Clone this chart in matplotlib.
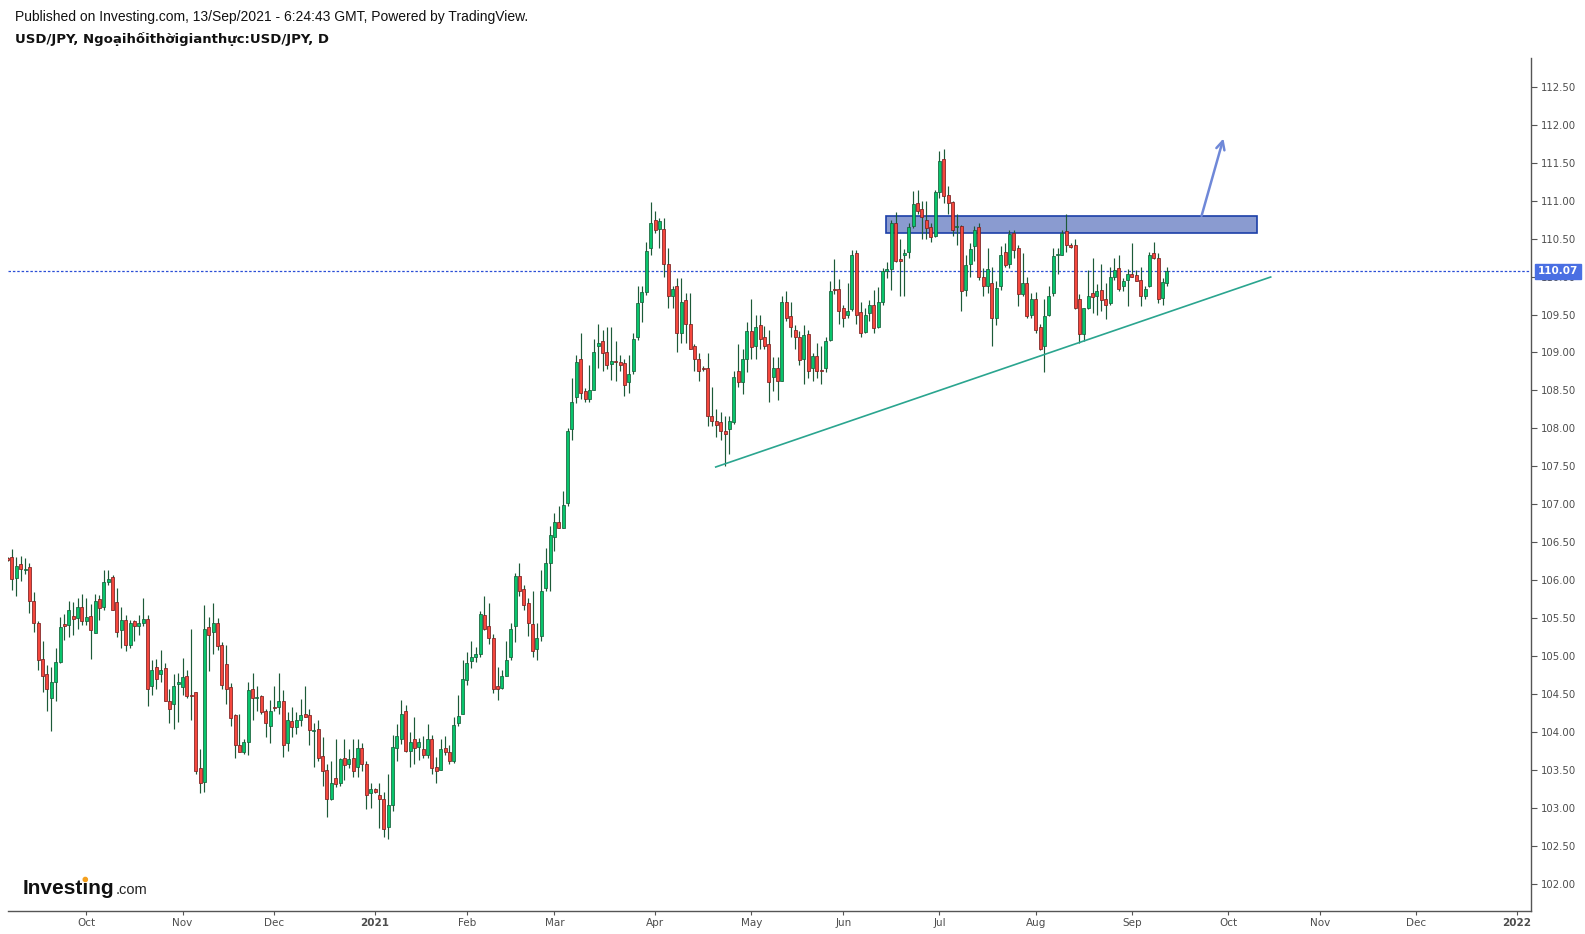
import numpy as np
import pandas as pd
import matplotlib
matplotlib.use('Agg')
import matplotlib.pyplot as plt
from matplotlib.patches import Rectangle, Ellipse

# ---------------- data ----------------
dates = pd.bdate_range('2020-09-07', '2021-09-13')

opens = [
    # Sep 2020
    106.29, 106.30, 106.03, 106.21, 106.13, 106.17, 105.73, 105.44, 104.96, 104.76, 104.45, 104.65, 104.92, 105.42, 105.41, 105.52, 105.50, 105.64,
    # Oct
    105.46, 105.53, 105.30, 105.75, 105.64, 105.97, 106.04, 105.71, 105.34, 105.48, 105.14, 105.46, 105.40, 105.44, 105.49, 104.60, 104.85, 104.76, 104.84, 104.41, 104.36, 104.63,
    # Nov
    104.59, 104.73, 104.48, 104.52, 103.52, 103.34, 105.38, 105.31, 105.43, 105.14, 104.89, 104.59, 104.22, 103.82, 103.74, 103.86, 104.56, 104.44, 104.47, 104.27, 104.07,
    # Dec
    104.32, 104.33, 104.40, 103.85, 104.14, 104.06, 104.16, 104.24, 104.22, 104.01, 104.04, 103.68, 103.50, 103.12, 103.39, 103.33, 103.65, 103.58, 103.65, 103.54, 103.79, 103.58, 103.19,
    # Jan 2021
    103.25, 103.17, 103.12, 102.75, 103.04, 103.79, 103.90, 104.28, 103.75, 103.90, 103.80, 103.77, 103.69, 103.91, 103.54, 103.50, 103.79, 103.74, 103.62, 104.11, 104.24,
    # Feb
    104.68, 104.93, 104.98, 105.02, 105.54, 105.39, 105.23, 104.60, 104.58, 104.74, 104.99, 105.39, 106.05, 105.88, 105.70, 105.42, 105.09, 105.26, 105.89, 106.23,
    # Mar
    106.57, 106.77, 106.69, 107.01, 107.99, 108.41, 108.91, 108.49, 108.38, 108.51, 109.08, 109.15, 109.01, 108.85, 108.89, 108.87, 108.86, 108.61, 108.75, 109.20, 109.66, 109.80, 110.37,
    # Apr
    110.75, 110.63, 110.63, 110.17, 109.75, 109.87, 109.25, 109.69, 109.38, 109.08, 108.92, 108.79, 108.79, 108.16, 108.10, 108.08, 107.97, 107.99, 108.08, 108.75, 108.61, 108.92,
    # May
    109.28, 109.08, 109.36, 109.21, 109.11, 108.67, 108.80, 108.62, 109.67, 109.48, 109.29, 109.21, 108.91, 109.24, 108.79, 108.95, 108.76, 108.79, 109.16, 109.83, 109.84,
    # Jun
    109.58, 109.49, 109.57, 110.31, 109.53, 109.27, 109.52, 109.63, 109.33, 109.66, 110.07, 110.10, 110.71, 110.23, 110.28, 110.33, 110.66, 110.97, 110.89, 110.75, 110.65, 110.53,
    # Jul
    111.12, 111.55, 111.07, 110.98, 110.65, 110.66, 109.82, 110.17, 110.40, 110.65, 109.99, 109.88, 109.92, 109.45, 109.87, 110.33, 110.16, 110.57, 110.37, 109.77, 109.92, 109.49,
    # Aug
    109.70, 109.33, 109.08, 109.49, 109.78, 110.28, 110.29, 110.60, 110.42, 110.41, 109.71, 109.24, 109.58, 109.78, 109.75, 109.82, 109.70, 109.65, 110.00, 110.11, 109.87, 109.95,
    # Sep
    110.03, 110.02, 109.96, 109.75, 109.87, 110.31, 110.24, 109.72, 109.92,
]

highs = [
    106.30, 106.41, 106.30, 106.32, 106.29, 106.22, 105.84, 105.46, 105.20, 104.88, 104.86, 105.11, 105.51, 105.55, 105.73, 105.71, 105.76, 105.81,
    105.76, 105.69, 105.81, 105.80, 106.13, 106.13, 106.06, 105.89, 105.64, 105.54, 105.48, 105.48, 105.54, 105.76, 105.54, 104.95, 104.96, 105.08, 104.91, 104.57, 104.76, 104.77,
    104.97, 104.82, 105.35, 104.53, 103.77, 105.67, 105.51, 105.70, 105.50, 105.18, 105.14, 104.64, 104.23, 104.23, 103.91, 104.65, 104.77, 104.61, 104.49, 104.30, 104.42,
    104.60, 104.77, 104.55, 104.26, 104.33, 104.26, 104.43, 104.60, 104.30, 104.12, 104.16, 103.93, 103.57, 103.61, 103.90, 103.66, 103.90, 103.77, 103.90, 103.90, 103.85, 103.61, 103.33,
    103.26, 103.32, 103.20, 103.45, 103.96, 104.10, 104.42, 104.35, 104.00, 104.20, 103.92, 103.94, 104.10, 103.96, 103.67, 103.90, 103.95, 103.83, 104.20, 104.48, 104.95,
    105.05, 105.20, 105.12, 105.59, 105.79, 105.70, 105.29, 104.85, 104.81, 105.20, 105.43, 106.09, 106.23, 105.94, 105.76, 105.85, 105.44, 106.13, 106.42, 106.71,
    106.89, 106.97, 107.17, 108.00, 108.66, 108.96, 109.25, 108.53, 108.83, 109.18, 109.38, 109.30, 109.34, 109.34, 109.15, 108.97, 108.92, 108.97, 109.25, 109.87, 109.87, 110.45, 110.98,
    110.87, 110.77, 110.77, 110.38, 109.88, 109.98, 109.98, 109.78, 109.78, 109.11, 108.99, 108.82, 108.99, 108.55, 108.25, 108.21, 108.16, 108.16, 108.75, 109.11, 109.05, 109.40,
    109.71, 109.50, 109.49, 109.35, 109.30, 108.94, 108.94, 109.75, 109.81, 109.67, 109.36, 109.28, 109.36, 109.29, 108.99, 109.12, 109.08, 109.20, 109.94, 110.23, 109.97,
    109.62, 109.91, 110.35, 110.35, 109.66, 109.59, 109.69, 109.82, 109.86, 110.11, 110.19, 110.74, 110.85, 110.50, 110.36, 110.70, 111.13, 111.14, 111.00, 110.99, 110.71, 111.14,
    111.66, 111.68, 111.20, 111.00, 110.83, 110.68, 110.28, 110.44, 110.66, 110.71, 110.11, 110.37, 110.12, 109.94, 110.40, 110.44, 110.61, 110.61, 110.41, 110.31, 109.99, 109.78,
    109.79, 109.38, 109.70, 109.88, 110.37, 110.37, 110.61, 110.82, 110.44, 110.49, 109.77, 109.59, 110.08, 110.24, 109.90, 110.16, 109.91, 110.13, 110.24, 110.28, 109.98, 110.10,
    110.44, 110.08, 110.12, 109.88, 110.33, 110.46, 110.31, 109.98, 110.12,
]

lows = [
    106.25, 105.87, 105.79, 105.99, 106.08, 105.56, 105.31, 104.81, 104.53, 104.28, 104.01, 104.41, 104.91, 105.21, 105.25, 105.28, 105.36, 105.41,
    105.41, 104.96, 105.30, 105.48, 105.60, 105.93, 105.60, 105.25, 105.11, 105.06, 105.11, 105.20, 105.27, 105.39, 104.34, 104.48, 104.56, 104.66, 104.40, 104.12, 104.04, 104.13,
    104.48, 104.44, 104.16, 103.45, 103.19, 103.21, 104.80, 105.02, 105.08, 104.57, 104.37, 104.08, 103.66, 103.73, 103.71, 103.70, 104.16, 104.27, 104.23, 103.93, 103.85,
    104.27, 104.24, 103.67, 103.75, 103.93, 103.97, 104.07, 104.19, 103.83, 103.53, 103.62, 103.28, 102.88, 103.10, 103.27, 103.29, 103.37, 103.52, 103.41, 103.41, 103.48, 102.98, 103.00,
    103.19, 102.73, 102.61, 102.59, 102.96, 103.62, 103.84, 103.74, 103.54, 103.58, 103.63, 103.65, 103.66, 103.45, 103.33, 103.49, 103.69, 103.57, 103.59, 104.07, 104.23,
    104.62, 104.84, 104.92, 104.99, 105.34, 105.16, 104.51, 104.42, 104.56, 104.73, 104.94, 105.19, 105.79, 105.61, 105.26, 104.99, 104.94, 105.20, 105.85, 105.86,
    106.38, 106.68, 106.68, 106.98, 107.84, 108.33, 108.39, 108.35, 108.35, 108.50, 108.79, 108.76, 108.78, 108.64, 108.63, 108.76, 108.42, 108.46, 108.72, 109.16, 109.40, 109.76, 110.29,
    110.57, 110.38, 109.99, 109.59, 109.59, 109.01, 109.13, 109.13, 109.04, 108.76, 108.63, 108.75, 108.03, 108.03, 107.89, 107.84, 107.50, 107.66, 108.06, 108.55, 108.45, 108.74,
    108.92, 108.92, 109.05, 109.04, 108.35, 108.49, 108.37, 108.62, 109.42, 109.21, 109.05, 108.84, 108.59, 108.66, 108.63, 108.66, 108.59, 108.74, 109.15, 109.77, 109.37,
    109.34, 109.45, 109.55, 109.38, 109.21, 109.25, 109.42, 109.25, 109.32, 109.62, 109.98, 109.82, 110.19, 109.74, 109.74, 110.24, 110.64, 110.82, 110.50, 110.50, 110.45, 110.52,
    111.04, 110.97, 110.82, 110.54, 110.42, 109.55, 109.75, 110.00, 110.21, 109.95, 109.74, 109.78, 109.09, 109.36, 109.82, 110.13, 110.11, 110.25, 109.61, 109.75, 109.45, 109.45,
    109.25, 109.03, 108.74, 109.48, 109.75, 110.04, 110.28, 110.33, 110.37, 109.57, 109.13, 109.15, 109.57, 109.52, 109.49, 109.55, 109.44, 109.63, 109.95, 109.81, 109.81, 109.61,
    109.99, 109.94, 109.61, 109.70, 109.86, 110.23, 109.65, 109.62, 109.88,
]

closes = [
    106.26, 106.02, 106.19, 106.14, 106.14, 105.73, 105.44, 104.94, 104.73, 104.56, 104.65, 104.92, 105.38, 105.40, 105.60, 105.49, 105.64, 105.46,
    105.51, 105.34, 105.73, 105.63, 105.97, 106.02, 105.60, 105.31, 105.48, 105.15, 105.44, 105.40, 105.43, 105.49, 104.56, 104.82, 104.69, 104.82, 104.40, 104.30, 104.61, 104.65,
    104.72, 104.47, 104.47, 103.48, 103.33, 105.36, 105.28, 105.43, 105.13, 104.62, 104.56, 104.18, 103.83, 103.73, 103.86, 104.55, 104.44, 104.46, 104.26, 104.11, 104.27,
    104.31, 104.40, 103.83, 104.15, 104.06, 104.15, 104.22, 104.20, 104.02, 104.03, 103.66, 103.48, 103.11, 103.32, 103.31, 103.64, 103.56, 103.64, 103.48, 103.78, 103.57, 103.17, 103.24,
    103.20, 103.11, 102.72, 103.04, 103.80, 103.94, 104.24, 103.75, 103.86, 103.79, 103.87, 103.69, 103.90, 103.52, 103.48, 103.77, 103.73, 103.61, 104.09, 104.21, 104.69,
    104.91, 104.98, 105.02, 105.55, 105.36, 105.23, 104.57, 104.57, 104.73, 104.94, 105.36, 106.05, 105.85, 105.67, 105.44, 105.06, 105.24, 105.86, 106.22, 106.59,
    106.76, 106.68, 106.99, 107.97, 108.35, 108.87, 108.47, 108.39, 108.50, 109.01, 109.13, 108.99, 108.84, 108.89, 108.88, 108.84, 108.57, 108.72, 109.18, 109.65, 109.79, 110.34, 110.71,
    110.61, 110.73, 110.17, 109.75, 109.84, 109.25, 109.66, 109.38, 109.05, 108.92, 108.75, 108.78, 108.16, 108.09, 108.05, 107.97, 107.92, 108.09, 108.68, 108.61, 108.92, 109.28,
    109.07, 109.34, 109.18, 109.09, 108.61, 108.79, 108.62, 109.66, 109.46, 109.34, 109.20, 108.90, 109.23, 108.76, 108.95, 108.75, 108.75, 109.15, 109.81, 109.82, 109.55,
    109.46, 109.55, 110.29, 109.50, 109.25, 109.50, 109.62, 109.32, 109.66, 110.07, 110.10, 110.70, 110.21, 110.20, 110.31, 110.65, 110.95, 110.87, 110.78, 110.64, 110.52, 111.11,
    111.52, 111.06, 110.97, 110.61, 110.66, 109.81, 110.15, 110.36, 110.62, 110.00, 109.87, 110.10, 109.45, 109.85, 110.28, 110.15, 110.56, 110.35, 109.77, 109.91, 109.48, 109.71,
    109.29, 109.05, 109.48, 109.75, 110.27, 110.29, 110.57, 110.41, 110.39, 109.58, 109.24, 109.58, 109.75, 109.73, 109.81, 109.69, 109.63, 110.00, 110.08, 109.83, 109.94, 110.03,
    110.00, 109.94, 109.74, 109.84, 110.28, 110.24, 109.71, 109.93, 110.07,
]

last_price = 110.07
y_ticks = np.arange(102.0, 112.51, 0.5)

# resistance zone / trend line / arrow (drawing tools)
zone_x = (200.86, 285.66)
zone_y = (110.58, 110.80)
trend_x = (161.86, 288.70)
trend_y = (107.49, 109.994)
arrow_from = (272.9, 110.80)
arrow_to = (277.9, 111.82)

# ---------------- plot ----------------
W, H = 1585, 934
fig = plt.figure(figsize=(W / 100, H / 100), dpi=100)
fig.patch.set_facecolor('white')
ax_l, ax_r, ax_t, ax_b = 8, 1531, 57.6, 910.7
ax = fig.add_axes([ax_l / W, (H - ax_b) / H, (ax_r - ax_l) / W, (ax_b - ax_t) / H])

o = np.array(opens); h = np.array(highs); l = np.array(lows); c = np.array(closes)
x = np.arange(len(dates))
up = c >= o

GREEN = '#08c46c'
GREEN_EDGE = '#17603a'
RED = '#f4473d'
RED_EDGE = '#7a1f1f'
WICK = '#1d5a38'

ax.vlines(x, l, h, color=WICK, lw=0.85, zorder=2)
bottom = np.minimum(o, c)
height = np.maximum(np.abs(c - o), 0.012)
ax.bar(x[up], height[up], bottom=bottom[up], width=0.68, color=GREEN,
       edgecolor=GREEN_EDGE, linewidth=0.55, zorder=3)
ax.bar(x[~up], height[~up], bottom=bottom[~up], width=0.68, color=RED,
       edgecolor=RED_EDGE, linewidth=0.55, zorder=3)

# last price dotted line
ax.axhline(last_price, color='#2b4fd6', lw=0.9, ls=(0, (2, 1.5)), zorder=1)

# resistance zone (drawn under the candles)
ax.add_patch(Rectangle((zone_x[0], zone_y[0]), zone_x[1] - zone_x[0], zone_y[1] - zone_y[0],
                       facecolor='#8a9bd0', edgecolor='#1c3fa8', lw=1.2, zorder=1.5))
# trend line
ax.plot(trend_x, trend_y, color='#2aa58f', lw=1.2, zorder=4)
# arrow
ax.annotate('', xy=arrow_to, xytext=arrow_from,
            arrowprops=dict(arrowstyle='->', color='#6f88d8', lw=1.8, mutation_scale=15,
                            shrinkA=0, shrinkB=0), zorder=5)

# axes limits
ax.set_xlim(0.10, 348.2)
ax.set_ylim(101.642, 112.886)

# month ticks from business-day calendar extended into the future
all_days = pd.bdate_range('2020-09-07', '2022-01-31')
tick_pos, tick_lab = [], []
for i in range(1, len(all_days)):
    if all_days[i].month != all_days[i - 1].month:
        tick_pos.append(i)
        d = all_days[i]
        tick_lab.append(str(d.year) if d.month == 1 else d.strftime('%b'))
ax.set_xticks(tick_pos)
ax.set_xticklabels(tick_lab)
for lab in ax.get_xticklabels():
    if lab.get_text().isdigit():
        lab.set_fontweight('bold')

ax.set_yticks(y_ticks)
ax.set_yticklabels([f'{v:.2f}' for v in y_ticks])
ax.yaxis.tick_right()

for s in ('top', 'left'):
    ax.spines[s].set_visible(False)
for s in ('right', 'bottom'):
    ax.spines[s].set_color('#555555')
    ax.spines[s].set_linewidth(1.0)

ax.tick_params(axis='y', direction='out', length=4, width=0.8, color='#555555',
               labelcolor='#4d4d4d', labelsize=7.3, pad=3)
ax.tick_params(axis='x', direction='out', length=3, width=0.8, color='#555555',
               labelcolor='#4d4d4d', labelsize=7.5, pad=2)
for lab in ax.get_xticklabels() + ax.get_yticklabels():
    lab.set_family('DejaVu Sans')

# last price label
ax.annotate(f'{last_price:.2f}', xy=(1.0, last_price), xycoords=('axes fraction', 'data'),
            xytext=(5, 0), textcoords='offset points', ha='left', va='center',
            fontsize=7.5, fontweight='bold', color='white', family='DejaVu Sans',
            bbox=dict(boxstyle='square,pad=0.25', fc='#4a6fe3', ec='#4a6fe3'),
            annotation_clip=False, zorder=10)

# header texts
fig.text(15.2 / W, 1 - 17.2 / H,
         'Published on Investing.com, 13/Sep/2021 - 6:24:43 GMT, Powered by TradingView.',
         fontsize=10.0, family='Liberation Sans', color='#111111', va='center', ha='left')
fig.text(15.2 / W, 1 - 39.4 / H, 'USD/JPY, Ngoạihốithờigianthực:USD/JPY, D',
         fontsize=9.5, family='DejaVu Sans', fontweight='bold', color='#111111',
         va='center', ha='left')

# logo
fig.text(22.2 / W, 1 - 894 / H, 'Investing', fontsize=15, family='Liberation Sans',
         fontweight='bold', color='#111111', va='baseline', ha='left')
fig.text(115.5 / W, 1 - 894 / H, '.com', fontsize=10.5, family='Liberation Sans',
         color='#222222', va='baseline', ha='left')
fig.add_artist(Ellipse((85.3 / W, 1 - 879.5 / H), 4.2 / W, 4.2 / H,
                       transform=fig.transFigure, color='#f5a01e', zorder=10))

fig.savefig('out.png', dpi=100, facecolor='white')
